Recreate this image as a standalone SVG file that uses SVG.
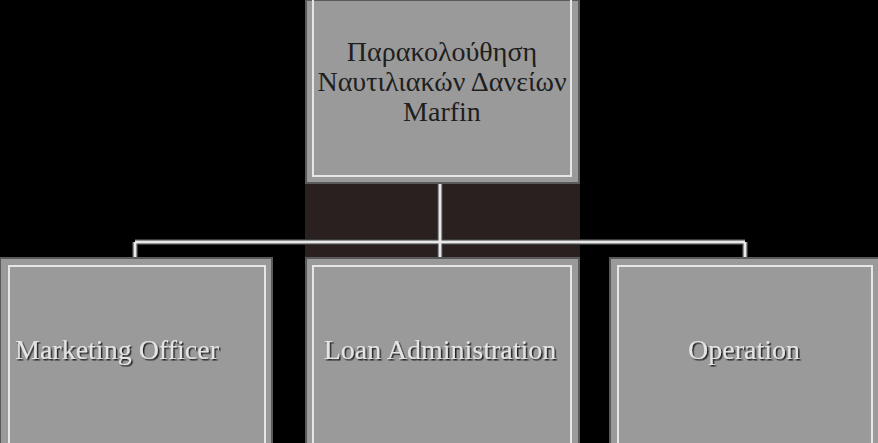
<svg xmlns="http://www.w3.org/2000/svg" width="878" height="443" viewBox="0 0 878 443">
<defs>
<style>
.box{fill:#9a9a9a;stroke:#5a5a5a;stroke-width:2}
.bevel{fill:none;stroke:#e6e6e6;stroke-width:2}
.t{font-family:"Liberation Serif","Times New Roman",serif;font-size:28px;text-anchor:middle}
.dark{fill:#1e1e1e}
.light{fill:#e4e4e4}
.conn{stroke:#e8e8e8;stroke-width:3;fill:none}
.connshade{stroke:#3a3a3a;stroke-width:6;fill:none}
</style>
<filter id="sh" x="-10%" y="-30%" width="120%" height="160%">
<feDropShadow dx="1.5" dy="1.5" stdDeviation="0.5" flood-color="#222"/>
</filter>
</defs>
<rect width="878" height="443" fill="#000"/>
<g id="connectors">
<rect x="305" y="183" width="275" height="75" fill="#2a2020"/>
<path class="connshade" d="M440 183V258M135 242H745M135 242V258M745 242V258"/>
<path class="conn" d="M440 183V258M135 242H745M135 242V258M745 242V258"/>
</g>
<g id="top">
<rect class="box" x="306" y="0" width="273" height="183"/>
<rect class="bevel" x="313" y="-2" width="258" height="178"/>
<text class="t dark" x="442" y="61">Παρακολούθηση</text>
<text class="t dark" x="442" y="91">Ναυτιλιακών Δανείων</text>
<text class="t dark" x="442" y="121">Marfin</text>
</g>
<g id="marketing">
<rect class="box" x="0" y="258" width="272" height="190"/>
<rect class="bevel" x="9" y="266" width="256" height="190"/>
<text class="t light" x="117" y="359" filter="url(#sh)">Marketing Officer</text>
</g>
<g id="loan">
<rect class="box" x="306" y="258" width="273" height="190"/>
<rect class="bevel" x="313" y="266" width="258" height="190"/>
<text class="t light" x="440" y="359" filter="url(#sh)">Loan Administration</text>
</g>
<g id="operation">
<rect class="box" x="610" y="258" width="270" height="190"/>
<rect class="bevel" x="618" y="266" width="254" height="190"/>
<text class="t light" x="744" y="359" filter="url(#sh)">Operation</text>
</g>
</svg>
